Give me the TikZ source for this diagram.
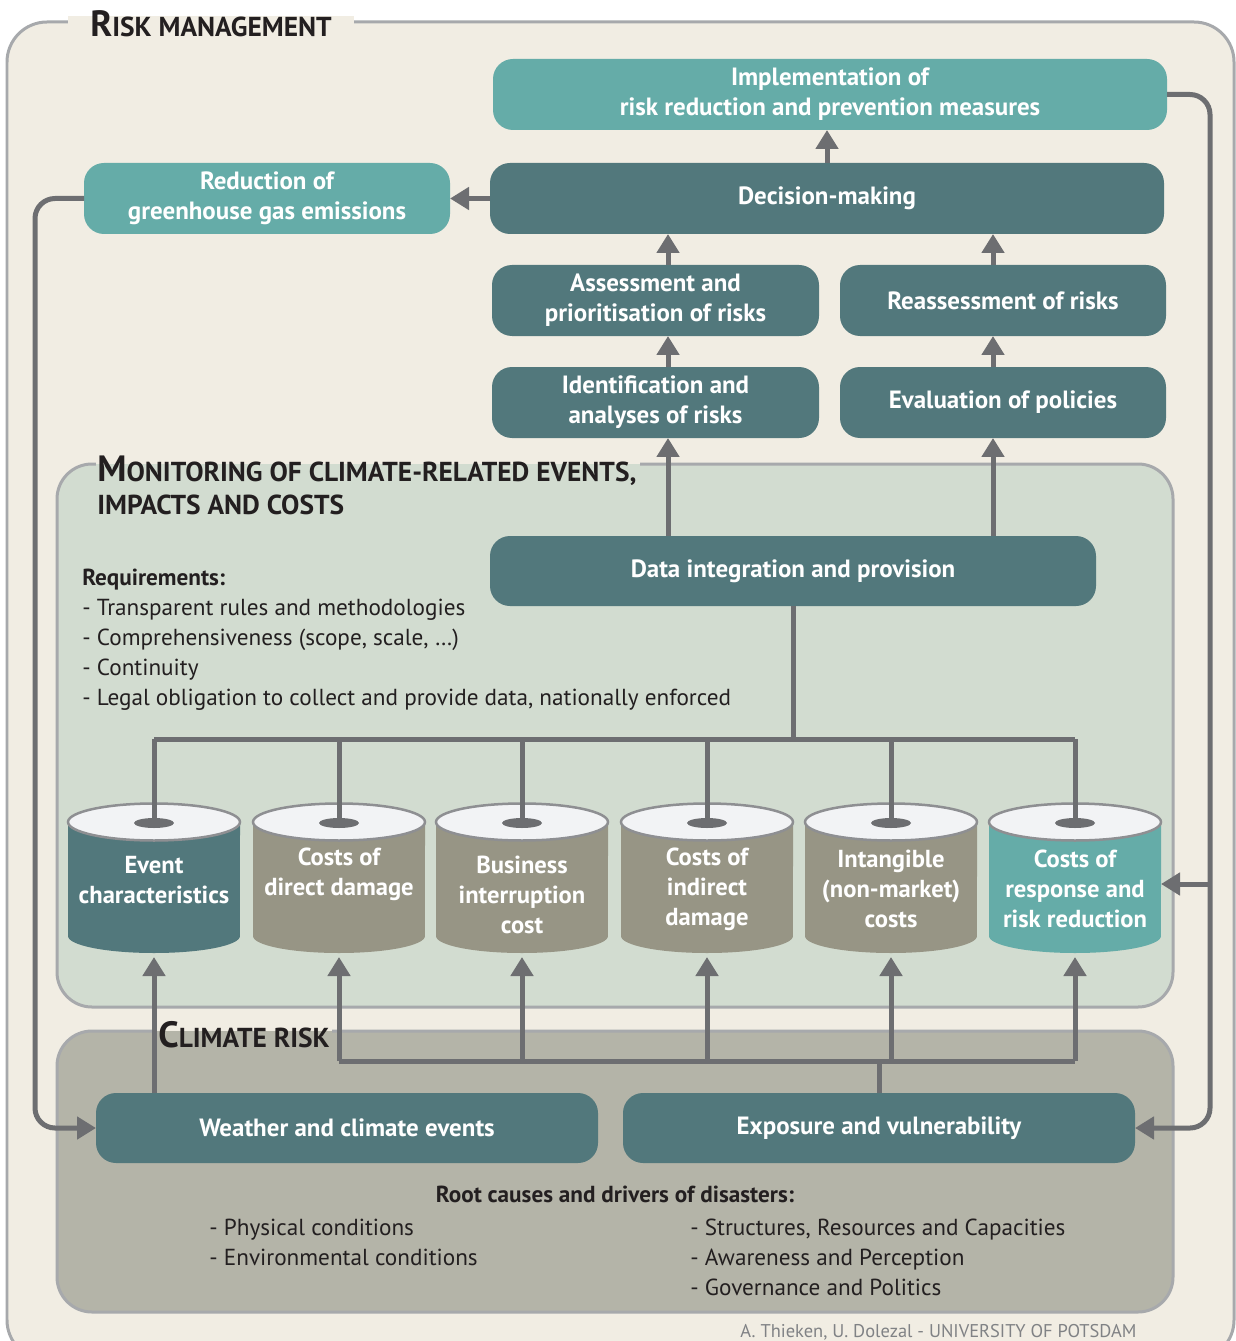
\documentclass[tikz,border=0pt]{standalone}
\usepackage{fontspec}
\setmainfont{PT Sans}
\usetikzlibrary{arrows.meta}
\definecolor{cream}{HTML}{F1EDE3}
\definecolor{ltteal}{HTML}{65ACA8}
\definecolor{dkteal}{HTML}{52787C}
\definecolor{mongreen}{HTML}{D2DCD0}
\definecolor{climgray}{HTML}{B4B4A8}
\definecolor{olive}{HTML}{979585}
\definecolor{linegray}{HTML}{6D6E71}
\definecolor{bordergray}{HTML}{A7A9AC}
\definecolor{captop}{HTML}{F2F3F5}
\definecolor{capedge}{HTML}{8E8F92}
\definecolor{ink}{HTML}{231F20}
\definecolor{credit}{HTML}{808285}
\newcommand\sctitle[2]{{\fontsize{20.8}{22}\selectfont #1}{\fontsize{15.6}{18}\selectfont #2}}
\newcommand\bx[7]{\node[#6, minimum width={(#4-#2)*0.02cm}, minimum height={(#5-#3)*0.02cm}] (#1) at ({(#2+#4)/2},{(#3+#5)/2}) {#7};}
\newcommand\cyl[5]{%
  \fill[#3] (#2-86,822) -- (#2-86,936) arc[start angle=180,end angle=360,x radius=1.72cm,y radius=0.34cm] -- (#2+86,822) -- cycle;
  \filldraw[fill=captop, draw=capedge, line width=0.05cm] (#2,822) ellipse[x radius=1.72cm, y radius=0.37cm];
  \fill[linegray] (#2,823) ellipse[x radius=0.4cm, y radius=0.1cm];
  \coordinate (#1-top) at (#2,823);
  \coordinate (#1-bot) at (#2,957);
  \coordinate (#1-e) at (#2+86,884);
  \node[cyltext] (#1) at (#2,#4) {#5};
}
\tikzset{
  box/.style={rounded corners=0.4cm, inner sep=0pt, outer sep=0pt, text=white, font=\bfseries\fontsize{14.2}{17}\selectfont, align=center},
  dk/.style={box, fill=dkteal},
  lt/.style={box, fill=ltteal},
  cyltext/.style={inner sep=0pt, text=white, font=\bfseries\fontsize{14}{17}\selectfont, align=center},
  ln/.style={draw=linegray, line width=0.1cm},
  arr/.style={ln, -{Triangle[width=0.44cm,length=0.38cm]}},
  panel/.style={draw=bordergray, line width=0.06cm, rounded corners=0.7cm},
  ttl/.style={inner sep=0pt, text=ink, font=\bfseries, anchor=base west},
  body/.style={inner sep=0pt, text=ink, font=\fontsize{13.2}{17}\selectfont, align=left, anchor=north west},
}
\begin{document}
\begin{tikzpicture}[x=0.02cm,y=-0.02cm]
\useasboundingbox (0,0) rectangle (1236,1341);
\fill[white] (0,0) rectangle (1236,1341);
% outer frame
\draw[fill=cream, draw=bordergray, line width=0.06cm, rounded corners=0.8cm] (7,22) rectangle (1234,1360);
\fill[cream] (68,16) rectangle (354,29);
\node[ttl] (tRM) at (90,37) {\sctitle{R}{ISK MANAGEMENT}};
% panels
\draw[panel, fill=mongreen] (57,464) rectangle (1173,1007);
\fill[cream] (96,460) rectangle (640,464);
\fill[mongreen] (96,464) rectangle (640,468);
\node[ttl] (tMon1) at (97,481) {\sctitle{M}{ONITORING OF CLIMATE-RELATED EVENTS,}};
\node[ttl] (tMon2) at (97,514) {\fontsize{15.6}{18}\selectfont IMPACTS AND COSTS};
\draw[panel, fill=climgray] (57,1031) rectangle (1173,1312);
\fill[cream] (156,1027) rectangle (332,1031);
\fill[climgray] (156,1031) rectangle (332,1035);
\node[ttl] (tClim) at (158,1047) {\sctitle{C}{LIMATE RISK}};
% boxes
\bx{impl}{493}{59}{1167}{130}{lt}{Implementation of\\risk reduction and prevention measures}
\bx{dec}{490}{163}{1164}{234}{dk}{Decision-making}
\bx{red}{84}{163}{450}{234}{lt}{Reduction of\\greenhouse gas emissions}
\bx{assess}{492}{265}{819}{336}{dk}{Assessment and\\prioritisation of risks}
\bx{reass}{840}{265}{1166}{336}{dk}{Reassessment of risks}
\bx{ident}{492}{367}{819}{438}{dk}{Identification and\\analyses of risks}
\bx{eval}{840}{367}{1166}{438}{dk}{Evaluation of policies}
\bx{data}{490}{536}{1096}{606}{dk}{Data integration and provision}
\bx{weather}{96}{1093}{598}{1163}{dk}{Weather and climate events}
\bx{exp}{623}{1093}{1135}{1163}{dk}{Exposure and vulnerability}
% texts
\node[body] (req) at (82,569) {\textbf{Requirements:}\\- Transparent rules and methodologies\\- Comprehensiveness (scope, scale, \dots)\\- Continuity\\- Legal obligation to collect and provide data, nationally enforced};
\node[inner sep=0pt, text=ink, font=\bfseries\fontsize{13.2}{17}\selectfont] (root) at (615,1194) {Root causes and drivers of disasters:};
\node[body] (rootL) at (209,1219) {- Physical conditions\\- Environmental conditions};
\node[body] (rootR) at (690,1219) {- Structures, Resources and Capacities\\- Awareness and Perception\\- Governance and Politics};
\node[inner sep=0pt, text=credit, font=\fontsize{10.5}{12}\selectfont, anchor=base west] (cred) at (740,1337) {A. Thieken, U. Dolezal - UNIVERSITY OF POTSDAM};
% cylinders
\cyl{c1}{154}{dkteal}{880}{Event\\characteristics}
\cyl{c2}{339}{olive}{874}{Costs of\\direct damage}
\cyl{c3}{522}{olive}{895}{Business\\interruption\\cost}
\cyl{c4}{707}{olive}{889}{Costs of\\indirect\\damage}
\cyl{c5}{891}{olive}{889}{Intangible\\(non-market)\\costs}
\cyl{c6}{1075}{ltteal}{889}{Costs of\\response and\\risk reduction}
% helper coordinates
\coordinate (cl) at (668,0);
\coordinate (cr) at (993,0);
\coordinate (tj) at (793,739);
\coordinate (ej) at (879,1061);
\coordinate (lx) at (35,0);
\coordinate (rx) at (1210,0);
% connectors top
\draw[arr] (dec.west) -- (red.east);
\draw[arr] (dec.north) -- (dec.north |- impl.south);
\draw[arr] (assess.north -| cl) -- (dec.south -| cl);
\draw[arr] (reass.north -| cr) -- (dec.south -| cr);
\draw[arr] (ident.north -| cl) -- (assess.south -| cl);
\draw[arr] (eval.north -| cr) -- (reass.south -| cr);
\draw[arr] (data.north -| cl) -- (ident.south -| cl);
\draw[arr] (data.north -| cr) -- (eval.south -| cr);
% data tree
\draw[ln] (data.south -| tj) -- (tj);
\draw[ln] (c1-top |- tj) -- (c6-top |- tj);
\foreach \c in {c1,c2,c3,c4,c5,c6} { \draw[ln] (\c-top |- tj) -- (\c-top); }
% exposure tree
\draw[ln] (exp.north -| ej) -- (ej);
\draw[ln] (c2-bot |- ej) -- (c6-bot |- ej);
\foreach \c in {c2,c3,c4,c5,c6} { \draw[arr] (\c-bot |- ej) -- (\c-bot); }
\draw[arr] (weather.north -| c1-bot) -- (c1-bot);
% loops
\draw[arr, rounded corners=0.4cm] (red.west) -- (red.west -| lx) -- (weather.west -| lx) -- (weather.west);
\draw[arr, rounded corners=0.4cm] (impl.east) -- (impl.east -| rx) -- (exp.east -| rx) -- (exp.east);
\draw[arr] (c6-e -| rx) -- (c6-e);
\end{tikzpicture}
\end{document}
